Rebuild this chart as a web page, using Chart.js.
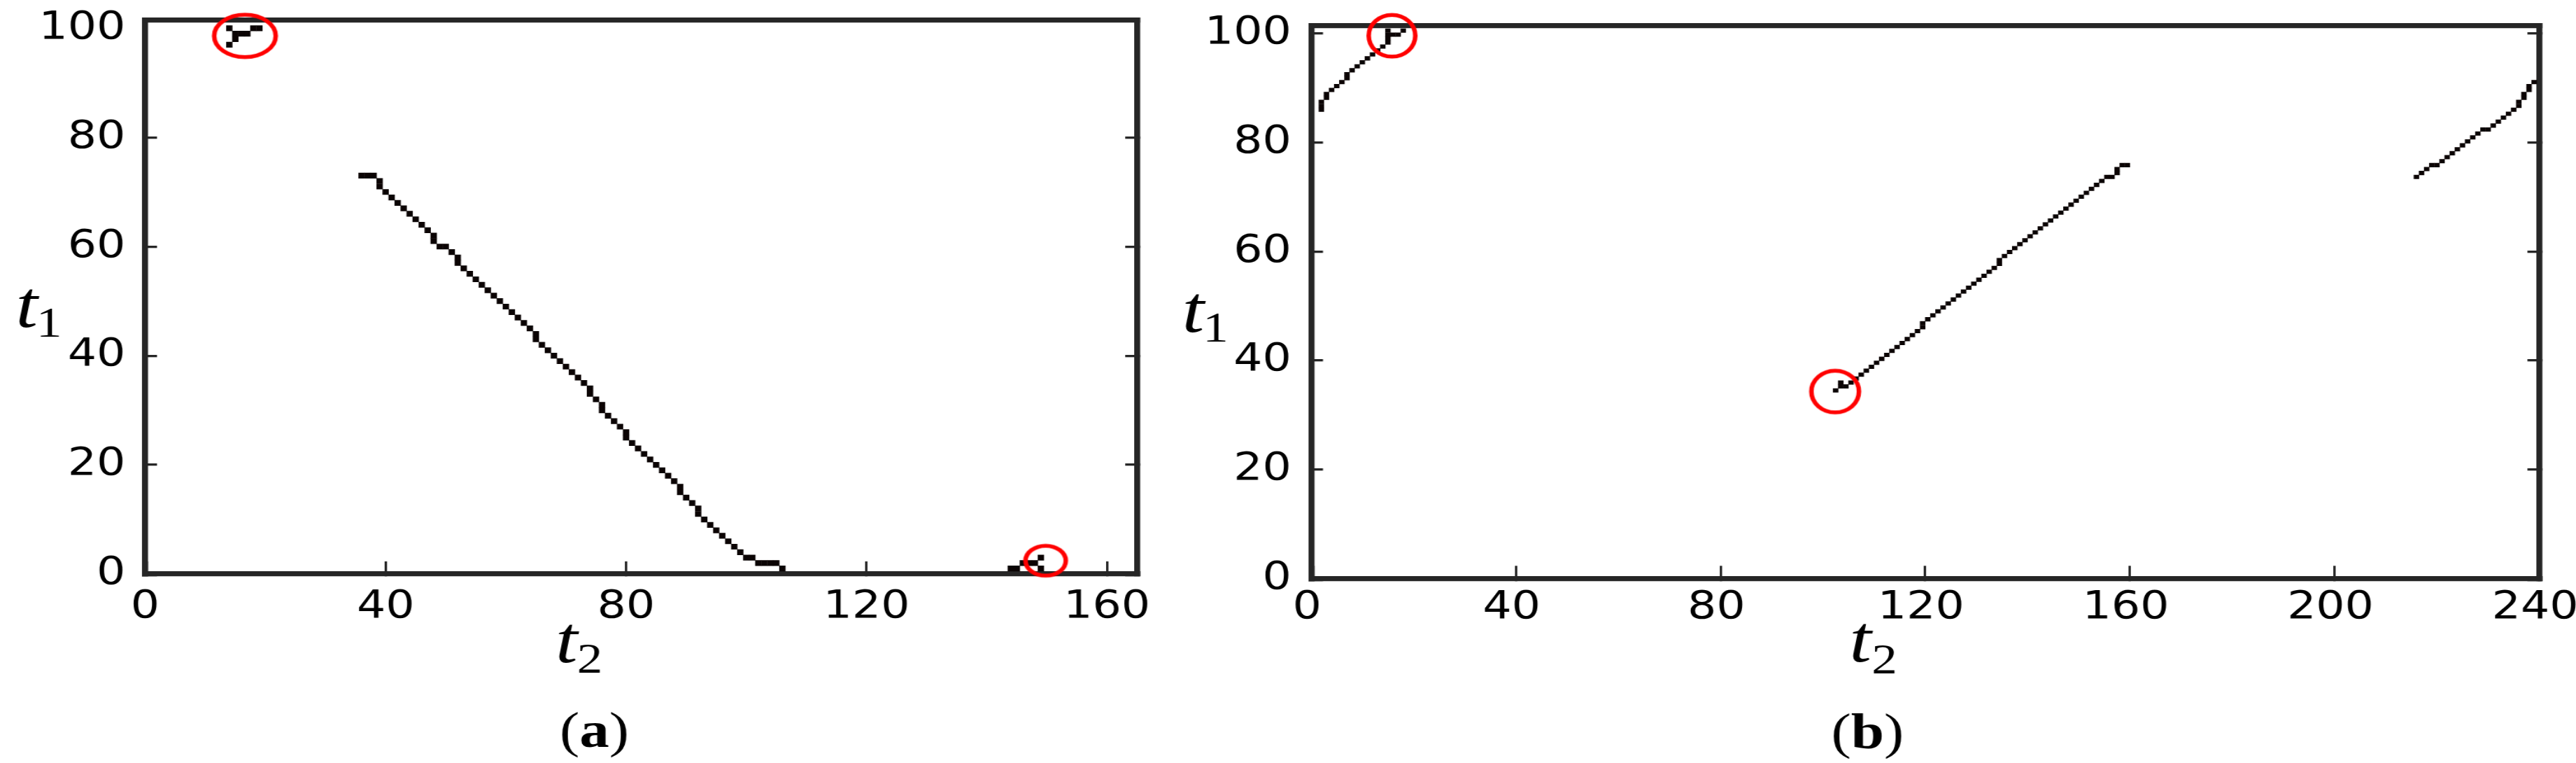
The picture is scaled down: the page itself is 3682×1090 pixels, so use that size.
<!DOCTYPE html>
<html>
<head>
<meta charset="utf-8">
<title>t1 / t2 maps</title>
<script src="https://cdn.jsdelivr.net/npm/chart.js@4.4.1/dist/chart.umd.min.js"></script>
<style>
    html, body { margin: 0; padding: 0; background: #fff; }
    body { position: relative; width: 3682px; height: 1090px; overflow: hidden; }
    canvas { position: absolute; top: 0; }
</style>
</head>
<body>
<!-- the figure is stretched horizontally by 1.18, so both canvases are drawn narrow and widened by css -->
<canvas id="map-a" width="1407" height="1090" style="left:0;width:1660.26px;height:1090px"></canvas>
<canvas id="map-b" width="1764" height="1090" style="left:1600px;width:2081.52px;height:1090px"></canvas>
<script>
// tick values
var aXTicks = [0, 40, 80, 120, 160];
var bXTicks = [0, 40, 80, 120, 160, 200, 240];
var yTicks = [0, 20, 40, 60, 80, 100];

// (a) long falling run of the map, one entry per black cell
var aMainT2 = [36, 37, 38, 39, 39, 40, 41, 42, 43, 44, 45, 46, 47, 48, 48, 49, 50, 51, 52, 52,
    53, 54, 55, 56, 57, 58, 59, 60, 61, 62, 63, 64, 65, 65, 66, 67, 68, 69, 70, 71, 72, 73,
    74, 74, 75, 76, 76, 77, 78, 79, 80, 80, 81, 82, 83, 84, 85, 86, 87, 88, 89, 89, 90, 91,
    92, 92, 93, 94, 95, 96, 97, 98, 99, 100, 101, 102, 103, 104, 105, 106];
var aMainT1 = [73, 73, 73, 72, 71, 70, 69, 68, 67, 66, 65, 64, 63, 62, 61, 60, 60, 59, 58, 57,
    56, 55, 54, 53, 52, 51, 50, 49, 48, 47, 46, 45, 44, 43, 42, 41, 40, 39, 38, 37, 36, 35,
    34, 33, 32, 31, 30, 29, 28, 27, 26, 25, 24, 23, 22, 21, 20, 19, 18, 17, 16, 15, 14, 13,
    12, 11, 10, 9, 8, 7, 6, 5, 4, 3, 3, 2, 2, 2, 2, 1];
// (a) circled spots
var aTopT2 = [14, 18, 19, 15, 16, 17, 15, 14];
var aTopT1 = [100, 100, 100, 99, 99, 99, 98, 97];
var aLowT2 = [144, 145, 146, 147, 148, 149, 149];
var aLowT1 = [1, 1, 2, 2, 2, 3, 1];
// (a) red marks
var aMarkT2 = [16.6, 149.8];
var aMarkT1 = [98.6, 2.44];

// (b) rising runs
var bLeftT2 = [2, 2, 2, 3, 3, 4, 5, 6, 7, 7, 8, 9, 10, 11, 12, 13, 14, 15, 15, 15, 15, 16, 17, 18];
var bLeftT1 = [86.02, 86.74, 87.47, 88.2, 88.92, 89.65, 90.37, 91.1, 91.82, 92.55, 93.27, 94.0,
    94.72, 95.45, 96.18, 96.9, 97.63, 98.35, 99.08, 99.8, 100.53, 99.8, 99.8, 100.53];
var bMidT2 = [102.5, 103.5, 103.5, 104.5, 105.5, 106.5, 107.5, 108.5, 109.5, 110.5, 111.5, 112.5,
    113.5, 114.5, 115.5, 116.5, 117.5, 118.5, 119.5, 119.5, 120.5, 121.5, 122.5, 123.5, 124.5,
    125.5, 126.5, 127.5, 128.5, 129.5, 130.5, 131.5, 132.5, 133.5, 134.5, 134.5, 135.5, 136.5,
    137.5, 138.5, 139.5, 140.5, 141.5, 142.5, 143.5, 144.5, 145.5, 146.5, 147.5, 148.5, 149.5,
    150.5, 151.5, 152.5, 153.5, 154.5, 155.5, 156.5, 157.5, 157.5, 158.5, 159.5];
var bMidT1 = [34.5, 35.23, 35.95, 35.23, 35.95, 36.68, 37.4, 38.13, 38.85, 39.58, 40.3, 41.03,
    41.76, 42.48, 43.21, 43.93, 44.66, 45.38, 46.11, 46.84, 47.56, 48.29, 49.01, 49.74, 50.46,
    51.19, 51.91, 52.64, 53.37, 54.09, 54.82, 55.54, 56.27, 56.99, 57.72, 58.44, 59.17, 59.9,
    60.62, 61.35, 62.07, 62.8, 63.52, 64.25, 64.98, 65.7, 66.43, 67.15, 67.88, 68.6, 69.33,
    70.05, 70.78, 71.51, 72.23, 72.96, 73.68, 73.68, 74.41, 75.13, 75.86, 75.86];
var bRightT2 = [216, 217, 218, 219, 220, 221, 222, 223, 224, 225, 226, 227, 228, 229, 230, 231,
    232, 233, 234, 235, 236, 236, 237, 237, 238, 238, 239];
var bRightT1 = [73.68, 74.41, 75.13, 75.86, 75.86, 76.58, 77.31, 78.04, 78.76, 79.49, 80.21,
    80.94, 81.66, 82.39, 82.39, 83.12, 83.84, 84.57, 85.29, 86.02, 86.74, 87.47, 88.2, 88.92,
    89.65, 90.37, 91.1];
// (b) red marks
var bMarkT2 = [15.8, 102.4];
var bMarkT1 = [99.6, 34.3];

var axisColor = '#262626';
var cellColor = '#0b0404';
var frameW = 7.3;
var tickFont = { family: 'DejaVu Sans', size: 55, lineHeight: 1 };

function cells(t2s, t1s, h) {
    return t2s.map(function (x, i) { return { x: x, y: [t1s[i] - h / 2, t1s[i] + h / 2] }; });
}

function points(t2s, t1s) {
    return t2s.map(function (x, i) { return { x: x, y: t1s[i] }; });
}

// red ring drawn once, used as the point style
function ring(rx, ry) {
    var lw = 5.5;
    var c = document.createElement('canvas');
    c.width = Math.ceil(2 * rx + lw + 4);
    c.height = Math.ceil(2 * ry + lw + 4);
    var g = c.getContext('2d');
    g.strokeStyle = '#ff0000';
    g.lineWidth = lw;
    g.beginPath();
    g.ellipse(c.width / 2, c.height / 2, rx, ry, 0, 0, Math.PI * 2);
    g.stroke();
    return c;
}

var mathLabels = {
    id: 'mathLabels',
    afterDraw: function (chart, args, opts) {
        var ctx = chart.ctx;
        var x = 0;
        ctx.save();
        ctx.fillStyle = '#000';
        ctx.textAlign = 'left';
        ctx.textBaseline = 'alphabetic';
        opts.items.forEach(function (it) {
            ctx.font = it.font;
            if (it.x !== null) x = it.x;
            ctx.fillText(it.text, x, it.y);
            x += ctx.measureText(it.text).width;
        });
        ctx.restore();
    }
};

function tickList(list) {
    return function (s) { s.ticks = list.map(function (v) { return { value: v }; }); };
}

// fixed axis size, and no extra room asked for the end labels
function fixSize(key, size) {
    return function (s) {
        s[key] = size;
        s.paddingTop = s.paddingBottom = s.paddingLeft = s.paddingRight = 0;
    };
}

function makeMap(id, o) {
    var yTickColor = function (c) {
        return (o.hideTop && c.tick && c.tick.value === 100) ? 'rgba(0,0,0,0)' : axisColor;
    };
    var wide = function (w) {
        return function (c) { return c.index === 0 ? frameW : w; };
    };
    var border = { display: true, width: frameW, color: axisColor };

    return new Chart(document.getElementById(id), {
        type: 'scatter',
        data: {
            datasets: [{
                type: 'scatter',
                data: points(o.markT2, o.markT1),
                pointStyle: o.rings,
                pointRadius: 20,
                clip: false
            }, {
                type: 'bar',
                data: o.cells,
                backgroundColor: cellColor,
                borderWidth: 0,
                barThickness: o.cellW,
                inflateAmount: 0.2,
                clip: 0
            }]
        },
        options: {
            responsive: false,
            animation: false,
            devicePixelRatio: 1,
            events: [],
            layout: { padding: { left: 0, top: o.top, right: o.right, bottom: 0 } },
            plugins: {
                legend: { display: false },
                tooltip: { enabled: false },
                mathLabels: { items: o.labels }
            },
            scales: {
                x: {
                    type: 'linear', position: 'bottom', min: 0, max: o.xMax, offset: false,
                    afterBuildTicks: tickList(o.xTicks),
                    afterFit: fixSize('height', o.xH),
                    grid: { offset: false, drawOnChartArea: false, tickLength: -18, lineWidth: wide(2.9), color: axisColor },
                    border: border,
                    ticks: {
                        font: tickFont, color: '#000', padding: o.xPad, labelOffset: o.xShift,
                        maxRotation: 0, autoSkip: false
                    }
                },
                y: {
                    type: 'linear', position: 'left', min: 0, max: 101.5,
                    afterBuildTicks: tickList(yTicks),
                    afterFit: fixSize('width', o.yW),
                    grid: { drawOnChartArea: false, tickLength: -14.35, lineWidth: wide(3.3), color: yTickColor },
                    border: border,
                    ticks: { font: tickFont, color: '#000', padding: 38.3, autoSkip: false }
                },
                x2: {
                    type: 'linear', position: 'top', min: 0, max: o.xMax, offset: false,
                    afterFit: fixSize('height', 0),
                    grid: { display: false, offset: false, lineWidth: frameW },
                    border: border,
                    ticks: { display: false }
                },
                y2: {
                    type: 'linear', position: 'right', min: 0, max: 101.5,
                    afterBuildTicks: tickList(yTicks),
                    afterFit: fixSize('width', 0),
                    grid: { drawOnChartArea: false, tickLength: -14.35, lineWidth: wide(3.3), color: yTickColor },
                    border: border,
                    ticks: { display: false }
                }
            }
        },
        plugins: [mathLabels]
    });
}

var italic = 'italic 96px "Liberation Serif"';
var sub = '62px "Liberation Serif"';
var paren = '72px "Liberation Serif"';
var bold = 'bold 72px "Liberation Serif"';

makeMap('map-a', {
    xMax: 165, xTicks: aXTicks, hideTop: true, xShift: 0,
    top: 28.7, right: 29.5, xH: 270, yW: 175.85, xPad: 38, cellW: 7.283,
    cells: cells(aMainT2, aMainT1, 1)
        .concat(cells(aTopT2, aTopT1, 1))
        .concat(cells(aLowT2, aLowT1, 1)),
    markT2: aMarkT2, markT1: aMarkT1,
    rings: [ring(37.3, 30.3), ring(24.4, 21.3)],
    labels: [
        { text: 't', font: italic, x: 19, y: 467 },
        { text: '1', font: sub, x: 44, y: 481 },
        { text: 't', font: italic, x: 673, y: 946 },
        { text: '2', font: sub, x: 699, y: 961 },
        { text: '(', font: paren, x: 678, y: 1067 },
        { text: 'a', font: bold, x: null, y: 1067 },
        { text: ')', font: paren, x: null, y: 1067 }
    ]
});

makeMap('map-b', {
    xMax: 240, xTicks: bXTicks, hideTop: false, xShift: -5,
    top: 36.3, right: 44.5, xH: 263.7, yW: 232.2, xPad: 32.7, cellW: 6.197,
    cells: cells(bLeftT2, bLeftT1, 0.7256)
        .concat(cells(bMidT2, bMidT1, 0.7256))
        .concat(cells(bRightT2, bRightT1, 0.7256)),
    markT2: bMarkT2, markT1: bMarkT1,
    rings: [ring(28.2, 29.8), ring(28.8, 29.8)],
    labels: [
        { text: 't', font: italic, x: 76, y: 474 },
        { text: '1', font: sub, x: 101, y: 488 },
        { text: 't', font: italic, x: 884, y: 945 },
        { text: '2', font: sub, x: 911, y: 962 },
        { text: '(', font: paren, x: 862, y: 1069 },
        { text: 'b', font: bold, x: null, y: 1069 },
        { text: ')', font: paren, x: null, y: 1069 }
    ]
});
</script>
</body>
</html>
